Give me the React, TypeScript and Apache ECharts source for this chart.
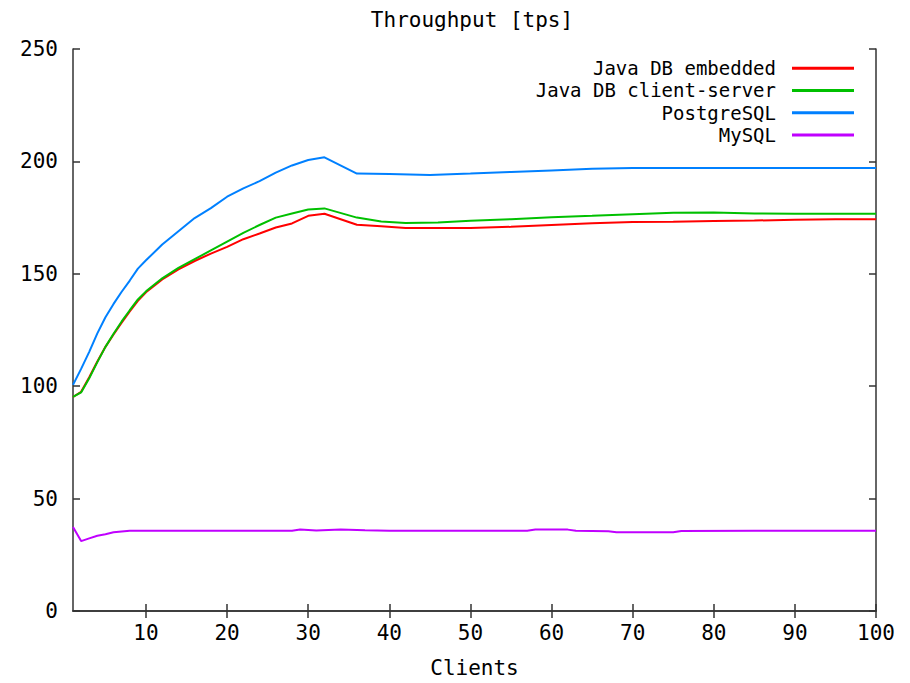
import React, { useEffect, useRef } from "react";
import * as echarts from "echarts";

const titleText = "Throughput [tps]";
const xAxisName = "Clients";
const xTickValues = [10, 20, 30, 40, 50, 60, 70, 80, 90, 100];

const seriesNames = ["Java DB embedded", "Java DB client-server", "PostgreSQL", "MySQL"];
const seriesColors = ["#ff0000", "#00c000", "#0080ff", "#c000ff"];

const embeddedX = [1, 2, 3, 4, 5, 6, 7, 8, 9, 10, 12, 14, 16, 18, 20, 22, 24, 26, 28, 30, 32, 36, 39, 42, 46, 50, 55, 60, 65, 70, 75, 80, 85, 90, 95, 100];
const embeddedY = [95.2, 97.5, 104, 111, 117.5, 123, 128.3, 133.3, 138, 141.8, 147.5, 152, 155.7, 159, 162, 165.4, 167.9, 170.6, 172.4, 175.8, 176.7, 171.8, 171.1, 170.4, 170.4, 170.4, 170.9, 171.7, 172.5, 173, 173.2, 173.5, 173.7, 174, 174.3, 174.3];

const clientServerX = [1, 2, 3, 4, 5, 6, 7, 8, 9, 10, 12, 14, 16, 18, 20, 22, 24, 26, 28, 30, 32, 36, 39, 42, 46, 50, 55, 60, 65, 70, 75, 80, 85, 90, 100];
const clientServerY = [95.2, 97.2, 103.5, 110.7, 117.5, 123.3, 128.8, 133.8, 138.6, 142.2, 148, 152.6, 156.5, 160.4, 164.3, 168.2, 171.7, 175, 176.8, 178.6, 179.1, 175, 173.3, 172.6, 172.8, 173.6, 174.3, 175.2, 175.8, 176.5, 177.2, 177.3, 176.8, 176.7, 176.7];

const postgresX = [1, 2, 3, 4, 5, 6, 7, 8, 9, 10, 12, 14, 16, 18, 20, 22, 24, 26, 28, 30, 32, 36, 40, 45, 50, 55, 60, 65, 70, 80, 90, 100];
const postgresY = [100.6, 107.7, 115.3, 123.5, 130.7, 136.6, 142, 147, 152.3, 156, 163, 168.9, 174.8, 179.2, 184.3, 188, 191.2, 195, 198.2, 200.6, 201.8, 194.6, 194.4, 194, 194.6, 195.3, 196, 196.7, 197.1, 197.1, 197.1, 197.1];

const mysqlX = [1, 2, 3, 4, 5, 6, 8, 10, 20, 28, 29, 31, 34, 37, 40, 50, 57, 58, 62, 63, 67, 68, 75, 76, 85, 100];
const mysqlY = [37.4, 31.1, 32.3, 33.5, 34.1, 35, 35.7, 35.7, 35.7, 35.7, 36.3, 35.8, 36.3, 35.9, 35.7, 35.7, 35.7, 36.3, 36.2, 35.7, 35.5, 35, 35, 35.6, 35.7, 35.7];

const seriesX = [embeddedX, clientServerX, postgresX, mysqlX];
const seriesY = [embeddedY, clientServerY, postgresY, mysqlY];

const FONT = "DejaVu Sans Mono";
const FONT_SIZE = 21;
const LEGEND_FONT_SIZE = 19;
const AXIS_COLOR = "#333333";

export default function App() {
  const ref = useRef<HTMLDivElement>(null);

  useEffect(() => {
    if (!ref.current) return;
    const chart = echarts.init(ref.current, null, { renderer: "svg" });

    const axisLineStyle = { show: true, lineStyle: { color: AXIS_COLOR, width: 1.5 } };
    const tickStyle = { show: true, inside: true, length: 7, lineStyle: { color: AXIS_COLOR, width: 1.5 } };

    const option: any = {
      animation: false,
      backgroundColor: "#ffffff",
      textStyle: { fontFamily: FONT },
      title: {
        text: titleText,
        left: 467,
        top: 4,
        textAlign: "center",
        textStyle: { fontFamily: FONT, fontSize: FONT_SIZE, fontWeight: "normal", color: "#000" },
      },
      legend: {
        orient: "vertical",
        right: 51,
        top: 52,
        align: "right",
        itemWidth: 62,
        itemHeight: 3,
        itemGap: 0,
        icon: "rect",
        data: seriesNames,
        textStyle: {
          fontFamily: FONT,
          fontSize: LEGEND_FONT_SIZE,
          color: "#000",
          lineHeight: 22.3,
          padding: [0, 11, 0, 0],
        },
      },
      grid: { left: 73, right: 34, top: 49, bottom: 66, containLabel: false },
      xAxis: [
        {
          type: "value",
          min: 1,
          max: 100,
          position: "bottom",
          name: xAxisName,
          nameLocation: "middle",
          nameGap: 46,
          nameTextStyle: { fontFamily: FONT, fontSize: FONT_SIZE, color: "#000" },
          axisLine: axisLineStyle,
          axisTick: { ...tickStyle, customValues: xTickValues },
          axisLabel: { customValues: xTickValues, fontFamily: FONT, fontSize: FONT_SIZE, color: "#000", margin: 11 },
          splitLine: { show: false },
        },
        {
          type: "value",
          min: 1,
          max: 100,
          position: "top",
          axisLine: axisLineStyle,
          axisTick: { ...tickStyle, customValues: xTickValues },
          axisLabel: { show: false },
          splitLine: { show: false },
        },
      ],
      yAxis: [
        {
          type: "value",
          min: 0,
          max: 250,
          interval: 50,
          position: "left",
          axisLine: axisLineStyle,
          axisTick: tickStyle,
          axisLabel: { fontFamily: FONT, fontSize: FONT_SIZE, color: "#000", margin: 15 },
          splitLine: { show: false },
        },
        {
          type: "value",
          min: 0,
          max: 250,
          interval: 50,
          position: "right",
          axisLine: axisLineStyle,
          axisTick: tickStyle,
          axisLabel: { show: false },
          splitLine: { show: false },
        },
      ],
      series: seriesNames.map((name, i) => ({
        name,
        type: "line",
        xAxisIndex: 0,
        yAxisIndex: 0,
        showSymbol: false,
        symbol: "none",
        color: seriesColors[i],
        lineStyle: { color: seriesColors[i], width: 2 },
        data: seriesX[i].map((x, j) => [x, seriesY[i][j]]),
        z: 2 + i,
      })),
    };

    chart.setOption(option);
    return () => chart.dispose();
  }, []);

  return (
    <div
      ref={ref}
      style={{ position: "fixed", left: 0, top: 0, width: 910, height: 683, background: "#fff" }}
    />
  );
}
